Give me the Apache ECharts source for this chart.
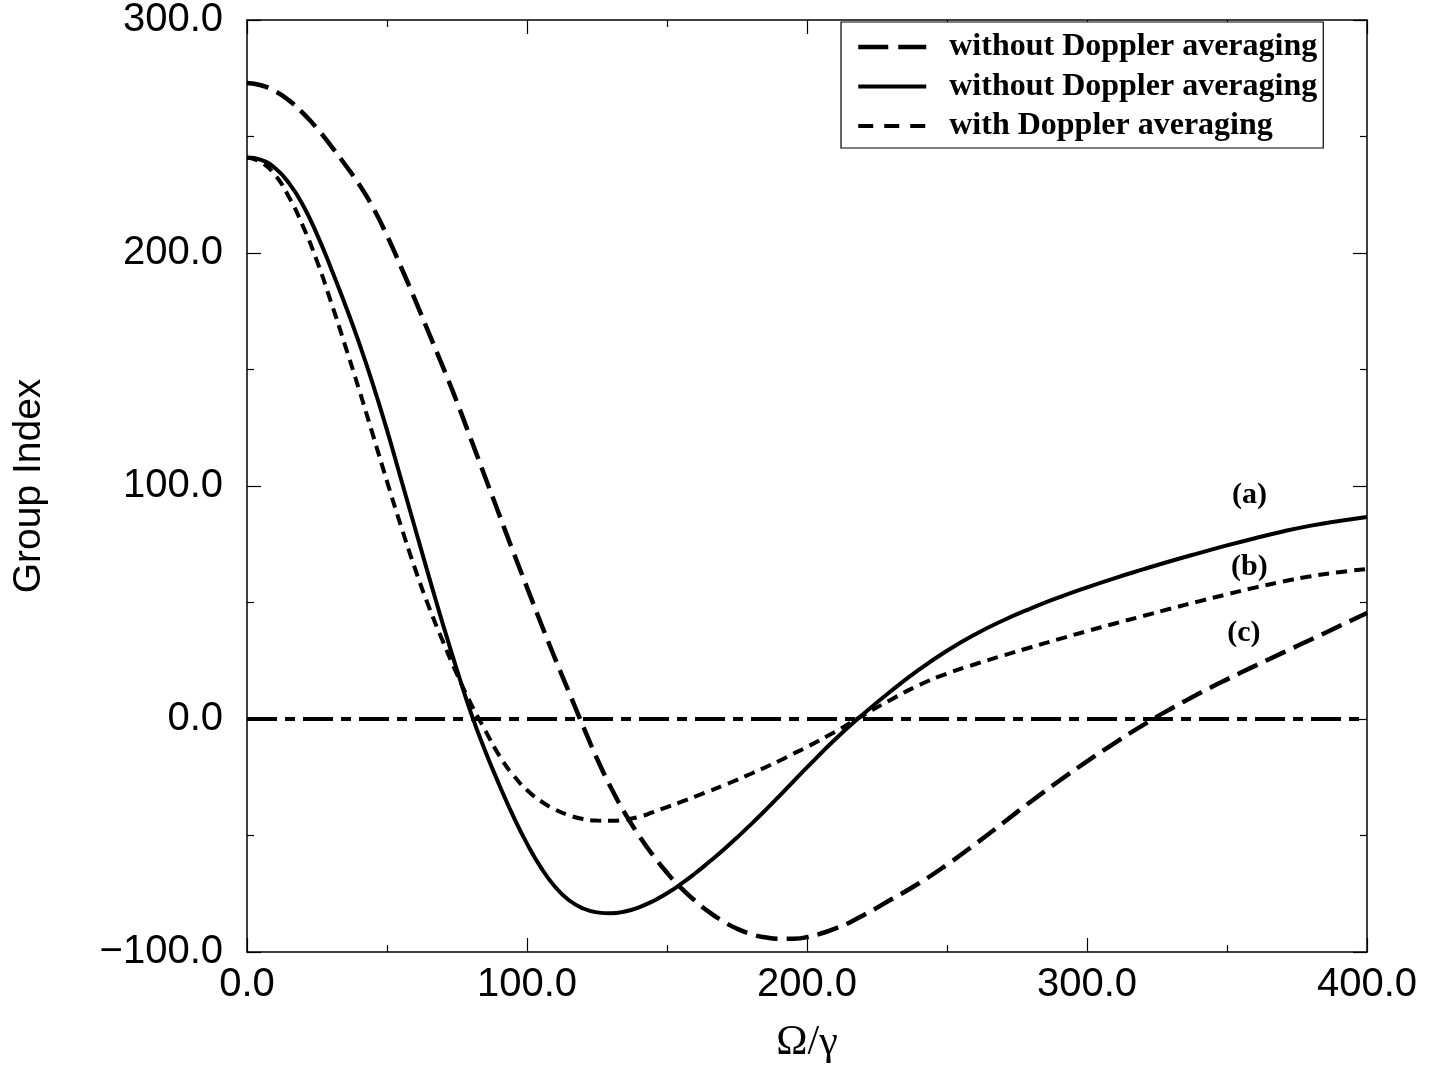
<!DOCTYPE html>
<html>
<head>
<meta charset="utf-8">
<script src="https://cdn.jsdelivr.net/npm/echarts@6/dist/echarts.min.js"></script>
<style>
  html, body { margin: 0; padding: 0; background: #fff; }
  #chart { width: 1441px; height: 1065px; }
</style>
</head>
<body>
<div id="chart"></div>
<script>
// Omega / gamma sample points (denser where the curves bend hard)
let omega = [0, 5, 10, 15, 20, 25, 30, 35, 40, 45, 50, 55, 60, 65, 70, 75, 80, 85, 90, 95, 100,
             105, 110, 115, 120, 125, 130, 135, 140, 145, 150, 155, 160, 165, 170, 175, 180, 185, 190, 195, 200,
             210, 220, 230, 240, 250, 260, 270, 280, 290, 300, 310, 320, 330, 340, 350, 360, 370, 380, 390, 400];

// (a) solid: without Doppler averaging
let group_a = [241, 240, 236.5, 230, 220.5, 208, 193.5, 178, 161.5, 143.5, 124, 103, 82, 61, 40.5, 21, 2.5, -13.5, -28, -41.5, -53.5,
               -63.8, -72, -77.8, -81.3, -83, -83.4, -82.6, -80.8, -78.2, -74.8, -70.8, -66.3, -61.4, -56.3, -50.9, -45.2, -39.3, -33.2, -27, -20.8,
               -8.8, 2, 12, 21.2, 29.3, 36.3, 42.3, 47.5, 52.2, 56.5, 60.5, 64.2, 67.8, 71.2, 74.5, 77.6, 80.5, 83, 85, 86.7];

// (b) short dashes: with Doppler averaging
let group_b = [241, 239, 233.5, 224, 211.5, 196.5, 179, 160.5, 141.5, 121.8, 102, 82.8, 64.6, 48, 33.2, 19.2, 6.5, -4.7, -15.5, -24, -30.5,
               -35.3, -38.8, -41.3, -42.9, -43.6, -43.7, -43.2, -42, -40, -37.8, -35.6, -33.3, -31, -28.6, -26.1, -23.5, -20.8, -18, -15, -12,
               -5.5, 1.5, 8.3, 14.5, 19.5, 23.5, 27.2, 30.8, 34.3, 37.7, 41, 44.2, 47.4, 50.5, 53.5, 56.4, 59, 61.3, 63, 64.4];

// (c) long dashes: without Doppler averaging
let group_c = [273, 272, 269.5, 265.5, 260, 253.5, 246, 238, 229.5, 219.5, 207.5, 194, 180, 165.5, 151, 136, 120, 104, 88, 72, 56.5,
               41, 26, 11.5, -3, -17, -29.5, -40.5, -50, -58.5, -66, -72.5, -78, -82.8, -86.8, -90, -92.3, -93.7, -94.3, -94.3, -93.6,
               -90, -84.3, -77.5, -70.5, -62.5, -53.8, -44.6, -35.4, -26.6, -18.2, -10.2, -2.6, 4.4, 10.9, 17, 22.8, 28.5, 34.1, 39.8, 45.5];

let zero_line = [[0, 0], [400, 0]];

let legend_names = ['without Doppler averaging', 'without Doppler averaging\u200b', 'with Doppler averaging'];
let curve_labels = [
    {text: '(a)', coord: [358, 96]},
    {text: '(b)', coord: [358, 65]},
    {text: '(c)', coord: [356, 37]}
];

function pairs(xs, ys) {
    return xs.map(function (x, i) { return [x, ys[i]]; });
}

function fmt(v) {
    let s = Math.abs(v).toFixed(1);
    return v < 0 ? '\u2212' + s : s;
}

function curveLabel(item) {
    return {
        markPoint: {
            symbol: 'circle',
            symbolSize: 0,
            silent: true,
            label: {
                show: true,
                position: 'inside',
                formatter: item.text,
                color: '#000',
                fontFamily: 'Liberation Serif',
                fontWeight: 'bold',
                fontSize: 30
            },
            data: [{coord: item.coord}]
        }
    };
}

let chart = echarts.init(document.getElementById('chart'));

let tickCommon = {
    axisLine: {show: true, onZero: false, lineStyle: {color: '#000', width: 1.5}},
    axisTick: {show: true, inside: true, length: 14, lineStyle: {color: '#000', width: 1.2}},
    minorTick: {show: true, splitNumber: 2, length: 7, lineStyle: {color: '#000', width: 1.2}},
    splitLine: {show: false},
    minorSplitLine: {show: false}
};

let option = {
    animation: false,
    backgroundColor: '#fff',
    grid: {left: 247, right: 74, top: 20, bottom: 113, containLabel: false, outerBoundsMode: 'none'},
    legend: {
        orient: 'vertical',
        left: 841,
        top: 22,
        data: [
            {name: legend_names[0], lineStyle: {width: 4.5, type: [30, 10]}},
            {name: legend_names[1], lineStyle: {width: 4, type: 'solid'}},
            {name: legend_names[2], lineStyle: {width: 4, type: [15, 11]}}
        ],
        itemWidth: 68,
        itemHeight: 28,
        itemGap: 7.5,
        padding: [9, 6, 6, 15],
        borderColor: '#000',
        borderWidth: 1.2,
        borderRadius: 0,
        backgroundColor: '#fff',
        selectedMode: false,
        itemStyle: {opacity: 0},
        textStyle: {
            color: '#000',
            fontFamily: 'Liberation Serif',
            fontWeight: 'bold',
            fontSize: 32,
            padding: [0, 0, 0, 18]
        }
    },
    xAxis: [
        Object.assign({
            type: 'value',
            min: 0,
            max: 400,
            interval: 100,
            name: '\u03A9/\u03B3',
            nameLocation: 'middle',
            nameGap: 70,
            nameTextStyle: {color: '#000', fontFamily: 'Liberation Serif', fontSize: 42},
            axisLabel: {color: '#000', fontFamily: 'Liberation Sans', fontSize: 40, margin: 13, formatter: fmt}
        }, tickCommon),
        Object.assign({
            type: 'value',
            position: 'top',
            min: 0,
            max: 400,
            interval: 100,
            axisLabel: {show: false}
        }, tickCommon)
    ],
    yAxis: [
        Object.assign({
            type: 'value',
            min: -100,
            max: 300,
            interval: 100,
            name: 'Group Index',
            nameLocation: 'middle',
            nameGap: 198,
            nameTextStyle: {color: '#000', fontFamily: 'Liberation Sans', fontSize: 39},
            axisLabel: {color: '#000', fontFamily: 'Liberation Sans', fontSize: 40, margin: 24, formatter: fmt}
        }, tickCommon),
        Object.assign({
            type: 'value',
            position: 'right',
            min: -100,
            max: 300,
            interval: 100,
            axisLabel: {show: false}
        }, tickCommon)
    ],
    series: [
        {
            name: 'zero',
            type: 'line',
            data: zero_line,
            symbol: 'none',
            silent: true,
            itemStyle: {color: '#000'},
            lineStyle: {color: '#000', width: 4, type: [30, 8, 10, 8]}
        },
        Object.assign({
            name: legend_names[0],
            type: 'line',
            data: pairs(omega, group_c),
            smooth: true,
            symbol: 'none',
            itemStyle: {color: '#000'},
            lineStyle: {color: '#000', width: 4.5, type: [22, 9]}
        }, curveLabel(curve_labels[2])),
        Object.assign({
            name: legend_names[1],
            type: 'line',
            data: pairs(omega, group_a),
            smooth: true,
            symbol: 'none',
            itemStyle: {color: '#000'},
            lineStyle: {color: '#000', width: 4, type: 'solid'}
        }, curveLabel(curve_labels[0])),
        Object.assign({
            name: legend_names[2],
            type: 'line',
            data: pairs(omega, group_b),
            smooth: true,
            symbol: 'none',
            itemStyle: {color: '#000'},
            lineStyle: {color: '#000', width: 4, type: [11, 7]}
        }, curveLabel(curve_labels[1]))
    ]
};

chart.setOption(option);

window.addEventListener('resize', function () {
    chart.resize();
});
</script>
</body>
</html>
